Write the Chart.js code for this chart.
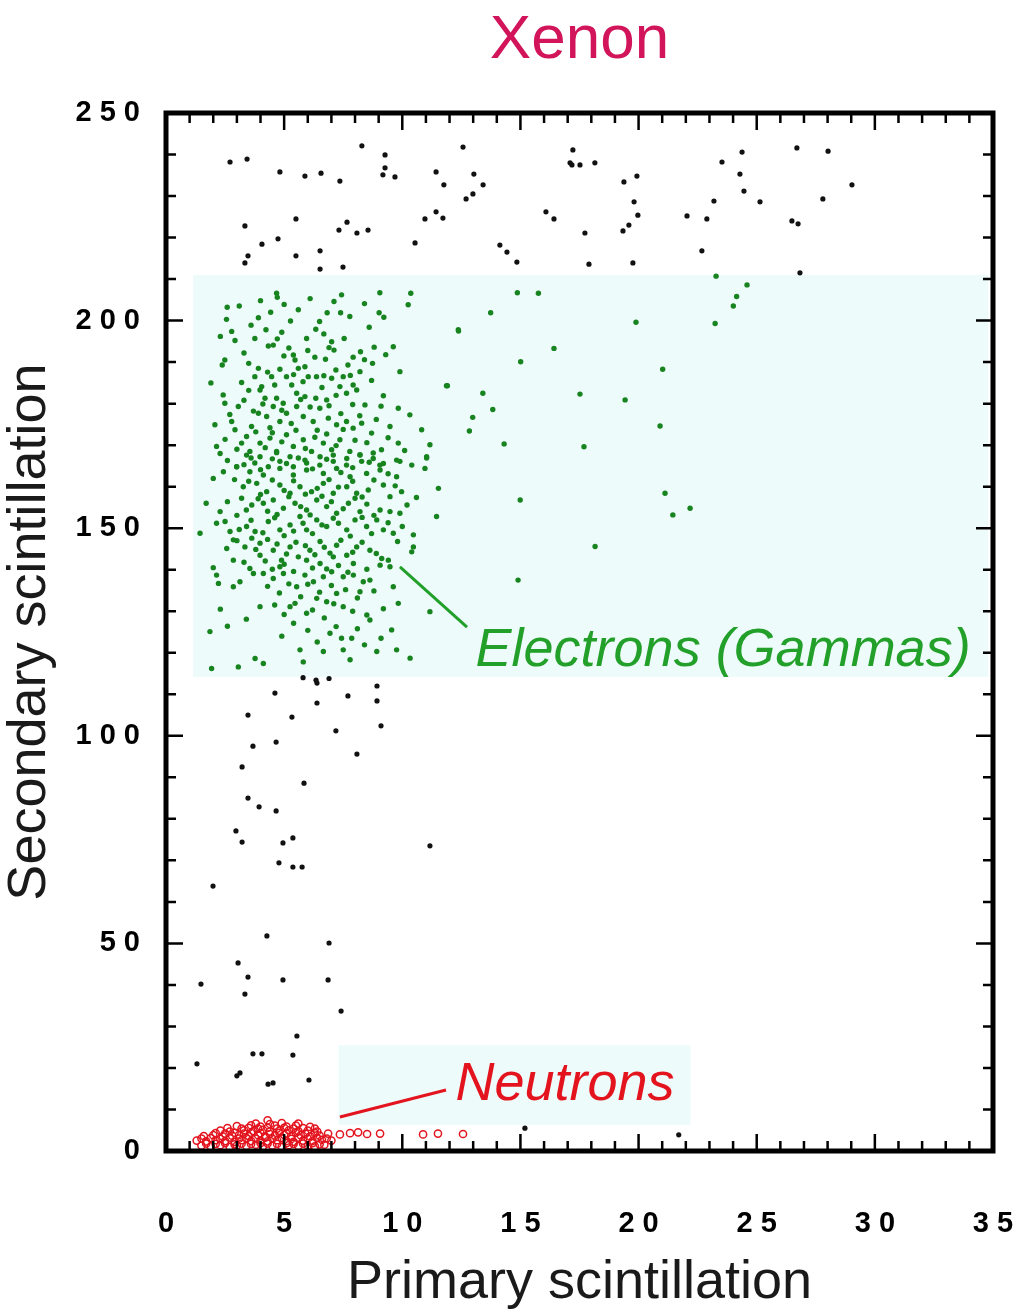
<!DOCTYPE html>
<html>
<head>
<meta charset="utf-8">
<title>Xenon</title>
<script src="https://cdn.jsdelivr.net/npm/chart.js@4.4.1/dist/chart.umd.min.js"></script>
<style>
  html, body { margin: 0; padding: 0; background: #fff; }
  canvas { display: block; }
</style>
</head>
<body>
<canvas id="xenonChart" width="1025" height="1313"></canvas>
<script>
/* Xenon: primary vs secondary scintillation scatter */

// axis ranges and tick steps
const xRange = [0, 35];
const yRange = [0, 250];
const xMinorStep = 1, xMajorStep = 5;
const yMinorStep = 10, yMajorStep = 50;

// shaded regions [xMin, xMax, yMin, yMax]
const electronBox = [1.15, 34.8, 114.2, 211];
const neutronBox = [7.3, 22.2, 6.3, 25.5];

// annotation labels: [x, y] of text start and leader lines [x1, y1, x2, y2]
const electronLabelAt = [13.1, 116.8];
const electronLeader = [9.9, 140.7, 12.74, 126.2];
const neutronLabelAt = [12.25, 12.4];
const neutronLeader = [7.36, 8.2, 11.85, 14.7];

// events outside the bands (black)
const blackPoints = [
  [2.71,238.2],[3.43,238.9],[4.82,235.8],[5.88,234.8],[6.56,235.5],[7.36,233.6],[8.29,242.1],[9.27,239.9],
  [9.18,235.1],[9.27,236.8],[9.69,234.6],[11.43,235.8],[11.76,232.7],[12.57,241.8],[13.03,235.3],[13.42,232.7],
  [12.99,230.5],[12.70,229.3],[17.22,241.1],[17.10,238.0],[3.34,222.8],[5.50,224.5],[7.66,223.7],[7.32,221.8],
  [8.08,221.1],[8.55,221.8],[10.96,224.5],[11.43,226.2],[11.72,224.7],[16.08,226.2],[16.42,224.5],[4.06,218.4],
  [4.74,219.7],[3.47,215.6],[3.34,213.9],[5.50,215.6],[6.52,216.8],[6.52,212.4],[7.49,212.9],[10.54,218.7],
  [14.13,218.2],[14.43,216.5],[14.85,214.1],[17.18,237.5],[17.52,237.5],[18.15,238.0],[19.38,233.4],[19.93,234.8],
  [19.81,228.6],[19.97,225.4],[17.73,221.1],[19.34,221.6],[19.59,223.0],[17.90,213.6],[19.76,213.9],[22.05,225.2],
  [22.89,224.5],[23.19,228.8],[23.53,238.2],[24.38,240.6],[24.29,235.3],[24.46,231.2],[25.14,228.6],[22.68,216.8],
  [26.49,224.0],[26.75,223.3],[26.70,241.6],[28.02,240.8],[27.80,229.3],[29.03,232.7],[26.83,211.5],
  [4.61,110.3],[6.39,112.7],[6.39,107.9],[7.70,109.6],[8.93,108.4],[3.47,105.0],[5.33,104.5],[7.19,101.2],
  [9.10,102.4],[3.68,97.5],[4.66,98.5],[8.08,95.6],[3.22,92.5],[5.84,88.6],[3.47,85.0],[3.94,82.9],
  [4.66,81.9],[2.96,77.1],[3.22,74.4],[4.95,74.2],[5.37,75.4],[4.78,69.4],[5.37,68.4],[5.76,68.4],
  [1.99,63.8],[11.17,73.5],[5.80,114.0],[6.35,113.4],[6.90,113.8],[8.93,112.0],
  [4.27,51.8],[6.90,50.1],[3.05,45.3],[3.47,41.9],[4.95,41.2],[6.86,41.2],[1.48,40.2],[3.34,37.8],
  [7.41,33.7],[5.54,27.7],[3.68,23.4],[4.06,23.4],[5.37,23.1],[1.31,21.0],[3.13,18.8],[3.00,18.1],
  [4.32,16.1],[4.53,16.4],[6.05,17.1],[15.19,5.5],[21.7,3.9]
];

// electron (gamma) events (green)
const greenPoints = [
  [4.68,206.6],[4.71,205.6],[5.00,203.9],[7.43,206.2],[7.11,204.6],[9.05,206.7],[10.36,206.6],[10.25,203.8],
  [2.59,203.2],[4.43,202.0],[3.91,200.7],[2.56,200.3],[5.27,199.9],[6.82,201.9],[7.39,201.9],[7.78,201.0],
  [9.02,201.9],[9.22,200.8],[2.78,197.4],[2.92,195.2],[3.76,195.7],[4.23,197.8],[4.71,195.6],[5.95,195.7],
  [6.34,197.9],[6.68,196.8],[7.01,194.9],[7.54,195.7],[8.23,192.5],[8.81,193.6],[9.62,193.7],[12.37,197.8],
  [2.49,190.5],[2.38,189.3],[4.33,193.9],[4.54,194.1],[4.99,191.5],[5.39,191.7],[5.46,190.5],[6.30,191.2],
  [6.75,190.7],[7.11,192.9],[7.19,188.1],[7.92,191.2],[8.74,189.7],[9.90,187.7],[3.76,186.5],[3.91,188.5],
  [4.05,184.1],[4.47,186.5],[4.82,188.3],[5.10,186.5],[5.60,188.5],[5.88,188.9],[6.02,186.5],[6.37,186.5],
  [6.68,186.7],[7.01,186.1],[7.50,186.5],[7.92,184.5],[8.21,187.7],[11.87,184.3],[2.42,182.1],[2.49,180.1],
  [3.06,179.3],[3.98,183.3],[4.19,181.3],[4.68,181.3],[4.96,180.1],[5.32,184.5],[5.53,182.5],[5.88,181.7],
  [6.34,181.3],[6.80,180.9],[7.36,184.1],[7.64,182.5],[8.07,183.3],[8.42,179.7],[2.07,174.9],[2.78,175.7],
  [2.92,173.7],[3.41,172.1],[3.62,174.5],[3.91,177.7],[4.26,176.9],[4.54,179.3],[4.82,175.7],[5.10,177.7],
  [5.53,179.3],[5.81,176.9],[6.23,175.7],[6.51,178.9],[6.87,176.5],[7.22,174.9],[7.64,175.7],[7.92,174.1],
  [8.28,175.3],[8.70,172.9],[9.48,174.5],[9.83,178.9],[10.32,177.3],[10.82,173.7],[2.14,169.7],[3.20,170.5],
  [3.55,168.5],[3.98,170.5],[4.40,171.7],[4.68,168.5],[5.10,172.5],[5.39,169.7],[5.81,171.3],[6.16,168.5],
  [6.66,170.5],[7.01,168.9],[7.36,171.3],[7.78,168.5],[8.21,167.7],[8.77,168.1],[9.12,168.9],[9.83,170.5],
  [11.17,170.1],[11.03,166.9],[2.99,164.8],[3.76,165.7],[4.33,164.8],[4.82,166.1],[5.39,164.8],[5.95,165.7],
  [6.51,165.2],[7.08,166.1],[7.64,165.2],[8.28,166.1],[9.05,165.2],[9.90,166.1],
  [2.29,168.0],[3.41,167.6],[3.98,167.2],[4.68,168.2],[5.25,167.2],[5.88,166.4],[6.52,167.2],[7.08,167.6],
  [7.65,166.8],[8.21,167.6],[8.77,166.8],[9.20,165.6],[9.76,166.4],[11.03,167.2],[10.96,164.4],[2.43,163.6],
  [2.99,164.8],[3.55,163.6],[4.12,162.8],[4.82,164.4],[5.39,162.8],[5.95,164.0],[6.66,163.2],[7.22,164.4],
  [7.79,162.4],[8.49,163.2],[9.06,164.0],[9.76,162.4],[3.27,160.0],[3.84,160.8],[4.26,158.8],[4.82,160.4],
  [5.25,158.4],[5.67,160.0],[6.16,158.8],[6.66,160.8],[7.08,158.4],[7.65,160.0],[8.07,158.4],[8.56,159.2],
  [9.20,160.4],[9.48,157.6],[9.97,158.8],[11.53,159.6],[3.20,157.2],[3.63,155.6],[4.12,156.0],[4.54,156.8],
  [4.97,154.8],[5.46,156.0],[5.95,154.4],[6.38,156.8],[6.80,155.2],[7.22,153.6],[7.72,156.0],[8.21,154.0],
  [9.06,154.4],[9.48,154.0],[9.90,153.6],[11.45,152.8],[2.29,154.0],[2.14,151.2],[2.71,149.2],[1.44,148.8],
  [3.41,150.4],[3.77,149.2],[4.33,151.6],[4.82,149.6],[5.25,150.8],[5.67,152.8],[5.95,149.6],[6.38,152.0],
  [6.80,150.4],[7.08,152.4],[7.65,149.6],[8.00,152.0],[8.49,150.4],[8.92,152.0],[9.20,149.6],[9.62,148.8],
  [10.47,148.4],[2.57,145.1],[2.85,147.2],[3.34,145.5],[3.63,147.6],[3.98,146.4],[4.54,144.7],[4.89,142.3],
  [5.25,145.5],[5.60,143.1],[6.09,144.7],[6.52,146.8],[6.94,144.0],[7.22,145.9],[7.65,143.5],[8.07,145.5],
  [8.63,144.7],[9.13,142.7],[9.41,142.3],[10.47,145.5],[10.40,144.3],[2.85,142.3],[3.55,140.3],[3.98,143.5],
  [4.82,140.7],[5.95,142.3],[6.52,141.5],[7.08,143.1],[7.93,141.5],[9.06,141.1],[2.14,138.7],[2.22,136.7],
  [2.85,135.9],[3.13,137.1],[3.70,139.1],[4.12,139.1],[4.54,137.9],[4.97,139.1],[5.53,135.9],[5.88,138.7],
  [6.24,137.1],[6.66,138.3],[7.01,139.5],[7.50,138.3],[7.93,138.7],[8.35,137.1],[8.63,137.5],[9.48,140.7],
  [3.98,131.1],[5.25,131.1],[5.46,131.9],[5.95,129.5],[6.38,133.1],[6.80,132.3],[7.22,134.3],[7.50,131.1],
  [8.21,134.7],[9.62,135.9],[9.83,131.9],[1.86,125.1],[6.94,124.7],[7.43,123.5],[7.86,123.5],[8.63,127.9],
  [9.55,125.5],[11.17,129.9],[5.67,120.7],[6.66,120.3],[7.50,120.7],[7.79,118.3],[8.92,120.3],[9.76,120.7],
  [10.33,118.7],[5.81,117.8],[1.93,116.2],[3.06,116.6],[3.77,118.6],[4.12,117.4],
  [3.1,203.5],[3.6,198.9],[4.0,204.8],[5.6,202.6],[6.1,205.3],[6.5,199.8],[8.4,204.1],[8.6,198.4],
  [3.3,192.2],[3.5,189.7],[4.9,197.2],[5.2,193.4],[6.0,192.8],[6.9,193.5],[7.7,189.3],[8.4,190.6],
  [9.3,191.8],[3.2,185.1],[3.5,183.2],[4.3,187.6],[4.6,184.5],[5.4,187.0],[5.8,185.3],[6.6,183.9],
  [7.2,182.0],[7.8,186.8],[8.7,185.6],[9.2,181.9],[2.7,177.4],[3.3,180.8],[3.7,178.2],[4.1,179.9],
  [4.4,174.2],[4.9,178.4],[5.3,175.2],[5.7,181.0],[6.1,179.2],[6.4,173.6],[6.9,179.5],[7.4,177.6],
  [7.9,179.8],[8.2,177.1],[8.9,176.2],[9.1,179.4],[2.5,171.4],[3.0,169.0],[3.8,173.2],[4.2,169.4],
  [4.5,173.0],[4.9,170.8],[5.5,173.6],[5.9,169.2],[6.3,171.9],[6.8,172.7],[7.2,169.9],[7.5,173.8],
  [8.0,171.2],[8.5,170.6],[9.4,171.8],[10.1,168.7],[2.6,166.3],[3.3,165.3],[3.6,166.9],[4.0,164.1],
  [4.5,166.7],[5.1,165.6],[5.6,166.9],[6.2,164.3],[6.8,166.6],[7.4,163.4],[7.9,164.6],[8.6,165.9],
  [9.4,163.1],[10.4,165.2],[2.9,161.7],[3.5,161.3],[4.0,158.1],[4.5,161.6],[5.0,159.1],[5.4,161.4],
  [5.9,158.2],[6.4,159.6],[6.9,161.7],[7.3,159.9],[7.9,161.3],[8.3,157.5],[8.8,161.6],[9.7,160.2],
  [10.6,157.4],[2.6,156.4],[3.0,153.1],[3.4,154.4],[3.9,157.1],[4.3,154.1],[4.7,153.3],[5.2,157.6],
  [5.7,155.2],[6.1,153.2],[6.6,157.7],[7.0,156.4],[7.5,154.7],[8.0,157.2],[8.5,155.8],[8.8,153.1],
  [10.2,155.6],[2.5,151.6],[3.1,149.7],[3.6,151.9],[4.1,148.9],[4.6,152.5],[5.0,148.2],[5.4,149.3],
  [5.8,151.2],[6.2,148.7],[6.6,150.8],[7.3,151.2],[7.8,148.1],[8.3,152.6],[8.7,148.7],[9.4,151.3],
  [10.0,150.4],[3.0,147.0],[3.8,144.9],[4.3,147.3],[4.7,146.2],[5.1,143.8],[5.5,146.6],[5.9,145.8],
  [6.3,143.6],[6.7,145.4],[7.4,147.1],[7.9,144.2],[8.3,146.6],[8.9,143.9],[9.8,146.8],[3.3,141.8],
  [4.2,142.1],[4.5,140.1],[5.0,141.3],[5.4,139.6],[6.2,140.4],[6.8,140.2],[7.3,141.0],[7.7,139.4],
  [8.5,140.1],[4.3,136.0],[4.8,134.4],[5.2,136.6],[5.7,133.5],[6.0,136.5],[6.5,134.6],[7.0,136.2],
  [7.6,135.2],[8.1,133.2],[8.8,134.9],[4.6,131.5],[5.0,129.2],[6.2,130.3],[6.7,128.4],[7.1,131.8],
  [7.9,130.0],[8.5,129.1],[9.2,130.6],[5.4,127.1],[6.0,125.4],[7.2,126.3],[8.1,125.8],[4.9,124.0],
  [6.4,122.6],[8.4,121.9],[9.1,123.5],[2.3,130.5],[2.6,126.4],[3.4,128.1],[2.0,140.5],[1.7,156.0],
  [2.0,162.0],[1.9,185.0],[2.3,196.2],
  [14.87,206.7],[15.76,206.6],[13.74,201.9],[12.38,197.5],[16.42,193.3],[15.01,190.1],[11.91,184.3],[13.41,182.5],
  [17.52,182.3],[19.43,180.9],[13.83,178.6],[12.98,176.7],[12.84,173.4],[14.31,170.3],[17.69,169.6],[21.02,188.3],
  [20.91,174.6],[19.89,199.6],[23.24,199.3],[23.28,210.7],[24.15,205.8],[24.01,203.5],[21.12,158.4],[22.18,154.8],
  [21.45,153.2],[14.99,156.8],[18.16,145.6],[24.59,208.6],[14.9,137.5]
];

// neutron events (red)
const redPoints = [
  [1.5,1.3],[1.9,1.1],[2.3,1.4],[2.7,1.0],[3.0,1.3],[3.4,1.2],[3.8,1.5],[4.1,1.1],[4.5,1.3],[4.9,1.0],
  [5.2,1.4],[5.6,1.2],[6.0,1.3],[6.3,1.1],[6.7,1.5],
  [1.7,1.8],[2.1,1.7],[2.5,1.9],[2.9,1.6],[3.2,1.8],[3.6,1.7],[4.0,1.9],[4.3,1.8],[4.7,1.7],[5.1,1.9],
  [5.4,1.7],[5.8,1.8],[6.2,1.9],[6.5,1.6],
  [1.3,2.5],[1.7,2.3],[2.1,2.6],[2.5,2.4],[2.9,2.2],[3.2,2.6],[3.6,2.4],[4.0,2.5],[4.3,2.3],[4.7,2.6],
  [5.1,2.4],[5.4,2.2],[5.8,2.5],[6.2,2.4],[6.6,2.7],[7.0,2.5],
  [1.5,3.0],[1.9,3.1],[2.3,2.9],[2.7,3.2],[3.1,3.0],[3.4,3.1],[3.8,3.0],[4.2,3.2],[4.5,3.0],[4.9,3.1],
  [5.3,2.9],[5.6,3.2],[6.0,3.0],[6.4,3.1],[6.8,3.0],
  [1.6,3.6],[2.0,3.8],[2.4,3.5],[2.8,3.7],[3.1,3.9],[3.5,3.6],[3.9,3.8],[4.2,3.5],[4.6,3.7],[5.0,3.9],
  [5.3,3.6],[5.7,3.8],[6.1,3.5],[6.5,3.7],
  [2.1,4.3],[2.5,4.2],[2.9,4.4],[3.3,4.2],[3.6,4.4],[4.0,4.3],[4.4,4.1],[4.8,4.4],[5.1,4.2],[5.5,4.4],
  [5.9,4.2],[6.3,4.3],
  [2.3,4.9],[2.7,4.7],[3.3,5.0],[3.7,4.8],[4.1,5.1],[4.4,4.7],[4.8,4.9],[5.2,5.0],[5.6,4.8],[6.0,4.9],
  [6.4,4.7],
  [2.6,5.5],[3.2,5.4],[3.5,5.6],[3.9,5.4],[4.3,5.6],[4.7,5.4],[5.0,5.6],[5.4,5.4],[5.8,5.5],[6.3,5.4],
  [3.0,6.0],[3.6,6.2],[4.0,5.9],[4.6,6.1],[5.1,5.9],[5.5,6.1],[6.1,5.8],
  [3.8,6.6],[4.4,6.5],[4.9,6.7],[5.6,6.6],[4.3,7.4],
  [6.86,4.2],[7.36,4.0],[7.79,4.3],[8.13,4.5],[8.51,4.1],[9.06,4.2],[10.88,4.0],[11.51,4.2],[12.57,4.1]
];

(function () {
  'use strict';

  const font = 'Liberation Sans, Arial, Helvetica, sans-serif';
  const greenLabel = '#22a02a';
  const redLabel = '#e3141e';

  function toXY(arr) {
    return arr.map(p => ({ x: p[0], y: p[1] }));
  }

  function spaced(v) {
    return String(v).split('').join(' ');
  }

  /* ── shaded bands behind the points ── */
  const bandPlugin = {
    id: 'bands',
    beforeDatasetsDraw(chart) {
      const { ctx, scales: { x, y } } = chart;
      ctx.save();
      ctx.fillStyle = '#eefbfb';
      [electronBox, neutronBox].forEach(b => {
        const x1 = x.getPixelForValue(b[0]), x2 = x.getPixelForValue(b[1]);
        const y1 = y.getPixelForValue(b[3]), y2 = y.getPixelForValue(b[2]);
        ctx.fillRect(x1, y1, x2 - x1, y2 - y1);
      });
      ctx.restore();
    }
  };

  /* ── frame with inward ticks on all four sides ── */
  const framePlugin = {
    id: 'frame',
    afterDatasetsDraw(chart) {
      const { ctx, chartArea: a, scales: { x, y } } = chart;
      ctx.save();
      ctx.strokeStyle = '#000';
      ctx.lineWidth = 2.5;
      ctx.beginPath();
      x.ticks.forEach(t => {
        const px = x.getPixelForValue(t.value);
        const len = t.value % xMajorStep === 0 ? 17 : 10;
        ctx.moveTo(px, a.bottom); ctx.lineTo(px, a.bottom - len);
        ctx.moveTo(px, a.top); ctx.lineTo(px, a.top + len);
      });
      y.ticks.forEach(t => {
        const py = y.getPixelForValue(t.value);
        const len = t.value % yMajorStep === 0 ? 17 : 10;
        ctx.moveTo(a.left, py); ctx.lineTo(a.left + len, py);
        ctx.moveTo(a.right, py); ctx.lineTo(a.right - len, py);
      });
      ctx.stroke();
      ctx.lineWidth = 5;
      ctx.strokeRect(a.left, a.top, a.right - a.left, a.bottom - a.top);
      ctx.restore();
    }
  };

  /* ── labels with leader lines ── */
  const notePlugin = {
    id: 'notes',
    afterDatasetsDraw(chart) {
      const { ctx, scales: { x, y } } = chart;
      const line = (l, color) => {
        ctx.strokeStyle = color;
        ctx.lineWidth = 3;
        ctx.beginPath();
        ctx.moveTo(x.getPixelForValue(l[0]), y.getPixelForValue(l[1]));
        ctx.lineTo(x.getPixelForValue(l[2]), y.getPixelForValue(l[3]));
        ctx.stroke();
      };
      ctx.save();
      line(electronLeader, greenLabel);
      line(neutronLeader, redLabel);
      ctx.font = 'italic 54px ' + font;
      ctx.textBaseline = 'alphabetic';
      ctx.textAlign = 'left';
      ctx.fillStyle = greenLabel;
      ctx.fillText('Electrons (Gammas)', x.getPixelForValue(electronLabelAt[0]), y.getPixelForValue(electronLabelAt[1]));
      ctx.fillStyle = redLabel;
      ctx.fillText('Neutrons', x.getPixelForValue(neutronLabelAt[0]), y.getPixelForValue(neutronLabelAt[1]));
      ctx.restore();
    }
  };

  const tickFont = { family: font, size: 29, weight: 'bold' };
  const titleFont = { family: font, size: 54, weight: 'normal', lineHeight: 1 };

  new Chart(document.getElementById('xenonChart'), {
    type: 'scatter',
    data: {
      datasets: [
        {
          label: 'Electrons (Gammas)',
          data: toXY(greenPoints),
          backgroundColor: '#178420',
          borderWidth: 0,
          pointRadius: 2.7
        },
        {
          label: 'Other events',
          data: toXY(blackPoints),
          backgroundColor: '#111',
          borderWidth: 0,
          pointRadius: 2.6
        },
        {
          label: 'Neutrons',
          data: toXY(redPoints),
          backgroundColor: 'rgba(0,0,0,0)',
          borderColor: '#e3141e',
          borderWidth: 1.5,
          pointRadius: 3.6
        }
      ]
    },
    options: {
      responsive: false,
      animation: false,
      devicePixelRatio: 1,
      layout: { padding: 0 },
      plugins: {
        legend: { display: false },
        tooltip: { enabled: false },
        title: {
          display: true,
          text: 'Xenon',
          fullSize: false,
          color: '#d2145a',
          font: { family: font, size: 62, weight: 'normal', lineHeight: 1 },
          padding: { top: 10, bottom: 41 }
        }
      },
      scales: {
        x: {
          type: 'linear',
          min: xRange[0],
          max: xRange[1],
          afterFit: s => {
            s.height = 162;
            s.paddingLeft = 0;
            s.paddingRight = 32;
          },
          grid: { display: false },
          border: { display: false },
          ticks: {
            stepSize: xMinorStep,
            autoSkip: false,
            maxRotation: 0,
            padding: 48,
            color: '#000',
            font: tickFont,
            callback: v => (v % xMajorStep === 0 ? spaced(v) : '')
          },
          title: {
            display: true,
            text: 'Primary scintillation',
            color: '#1a1a1a',
            font: titleFont,
            padding: { top: 0, bottom: 3 }
          }
        },
        y: {
          type: 'linear',
          min: yRange[0],
          max: yRange[1],
          afterFit: s => {
            s.width = 166;
            s.paddingTop = 0;
            s.paddingBottom = 0;
          },
          grid: { display: false },
          border: { display: false },
          ticks: {
            stepSize: yMinorStep,
            autoSkip: false,
            padding: 18,
            color: '#000',
            font: tickFont,
            callback: v => (v % yMajorStep === 0 ? spaced(v) : '')
          },
          title: {
            display: true,
            text: 'Secondary scintillation',
            color: '#1a1a1a',
            font: titleFont,
            padding: { top: 3, bottom: 0 }
          }
        }
      }
    },
    plugins: [bandPlugin, framePlugin, notePlugin]
  });
})();
</script>
</body>
</html>
